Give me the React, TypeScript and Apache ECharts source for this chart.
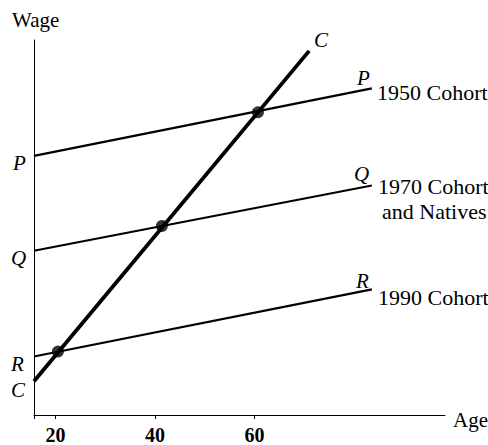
import React, { useEffect, useRef } from "react";
import * as echarts from "echarts";

// Data (arbitrary wage units 0..100, age in years)
const xMin = 15.7;
const xMax = 98.3;
const lineAges = [15.7, 83.6];
const cohort1950 = [69.1, 87.1];
const cohort1970 = [43.8, 61.2];
const cohort1990 = [15.6, 33.5];
const cAges = [15.7, 71.0];
const cWages = [9.0, 97.1];
const crossAges = [20.5, 41.4, 60.7];
const crossWages = [16.9, 50.4, 80.7];
const tickLabels = [20, 40, 60];

const FONT = "'Liberation Serif', 'Times New Roman', serif";

export default function App() {
  const ref = useRef<HTMLDivElement>(null);
  useEffect(() => {
    if (!ref.current) return;
    document.body.style.margin = "0";
    const chart = echarts.init(ref.current, null, { renderer: "svg" });
    const mk = (ys: number[]) => lineAges.map((a, i) => [a, ys[i]]);
    const lineSeries = (data: number[][], w: number) => ({
      type: "line",
      data,
      symbol: "none",
      lineStyle: { color: "#000", width: w },
      silent: true,
    });
    const txt = (
      text: string,
      x: number,
      y: number,
      opts: any = {}
    ) => ({
      type: "text",
      x,
      y,
      style: {
        text,
        fill: "#000",
        font: `${opts.italic ? "italic " : ""}${opts.size || 21}px ${FONT}`,
        textAlign: opts.align || "left",
        textVerticalAlign: "middle",
      },
    });
    chart.setOption({
      animation: false,
      grid: { left: 34, right: 43, top: 40, bottom: 26, containLabel: false },
      xAxis: {
        type: "value",
        min: xMin,
        max: xMax,
        axisLine: { show: true, lineStyle: { color: "#000", width: 1 } },
        axisTick: {
          show: true,
          length: 4,
          inside: false,
          customValues: [xMin, ...tickLabels],
          lineStyle: { color: "#000" },
        },
        axisLabel: {
          customValues: tickLabels,
          color: "#000",
          fontFamily: FONT,
          fontSize: 20,
          fontWeight: "bold",
          margin: 10,
        },
        splitLine: { show: false },
      },
      yAxis: {
        type: "value",
        min: 0,
        max: 100,
        axisLine: { show: true, onZero: false, lineStyle: { color: "#000", width: 1 } },
        axisTick: { show: false },
        axisLabel: { show: false },
        splitLine: { show: false },
      },
      series: [
        lineSeries(mk(cohort1950), 2.2),
        lineSeries(mk(cohort1970), 2.2),
        lineSeries(mk(cohort1990), 2.2),
        lineSeries(cAges.map((a, i) => [a, cWages[i]]), 3.8),
        {
          type: "scatter",
          data: crossAges.map((a, i) => [a, crossWages[i]]),
          symbol: "circle",
          symbolSize: 12,
          itemStyle: { color: "#000" },
          silent: true,
        },
      ],
      graphic: [
        txt("Wage", 12, 20),
        txt("Age", 453, 420),
        txt("P", 13, 163, { italic: true }),
        txt("Q", 11, 258, { italic: true }),
        txt("R", 11, 364, { italic: true }),
        txt("C", 11, 390, { italic: true }),
        txt("C", 314, 40, { italic: true }),
        txt("P", 357, 78, { italic: true }),
        txt("Q", 354, 174, { italic: true }),
        txt("R", 356, 281, { italic: true }),
        txt("1950 Cohort", 377, 92, { size: 22 }),
        txt("1970 Cohort", 378, 186, { size: 22 }),
        txt("and Natives", 382, 211, { size: 22 }),
        txt("1990 Cohort", 378, 297, { size: 22 }),
      ],
    });
    return () => chart.dispose();
  }, []);
  return (
    <div
      ref={ref}
      style={{ position: "absolute", left: 0, top: 0, width: 488, height: 445 }}
    />
  );
}
